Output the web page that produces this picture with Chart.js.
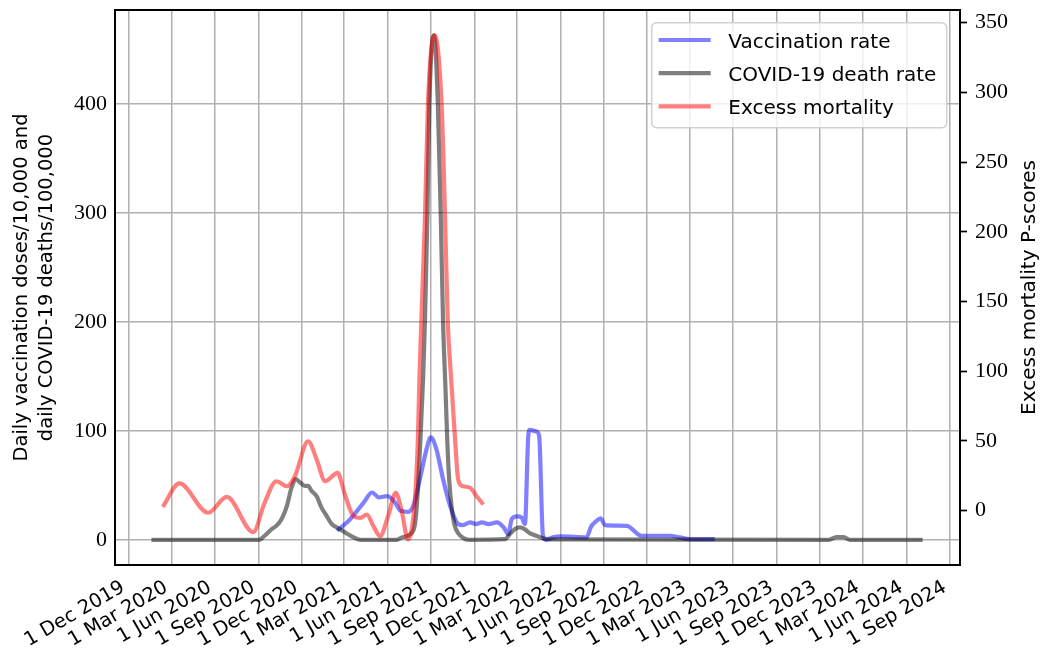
<!DOCTYPE html>
<html>
<head>
<meta charset="utf-8">
<script src="https://cdn.jsdelivr.net/npm/chart.js@4.4.1/dist/chart.umd.min.js"></script>
<style>
  html, body { margin: 0; padding: 0; background: #ffffff; }
  #wrap { width: 1045px; height: 649px; }
</style>
</head>
<body>
<div id="wrap"><canvas id="chart" width="1045" height="649"></canvas></div>
<script>
// Daily vaccination doses per 10,000 (left axis)
const vaccDates = [
  '2021-02-14','2021-03-14','2021-04-11','2021-04-29','2021-05-13','2021-05-31','2021-06-17','2021-06-28',
  '2021-07-14','2021-07-25','2021-08-08','2021-08-22','2021-08-31','2021-09-12','2021-09-26','2021-10-11',
  '2021-10-28','2021-11-07','2021-11-22','2021-12-06','2021-12-17','2021-12-31','2022-01-18','2022-02-01',
  '2022-02-11','2022-02-18','2022-03-01','2022-03-11','2022-03-18','2022-03-25','2022-03-28','2022-04-11',
  '2022-04-17','2022-04-25','2022-05-02','2022-05-16','2022-05-31','2022-07-26','2022-08-05','2022-08-16',
  '2022-08-25','2022-09-03','2022-10-19','2022-11-19','2023-01-18','2023-02-08','2023-03-01','2023-04-23'
];
const vaccRate = [
  8.3, 19, 34, 43.4, 39, 40, 34, 26.6,
  25.7, 31, 55.6, 83, 94, 83, 55.6, 31,
  14.4, 13.5, 16, 14.4, 16, 14.4, 16, 11.4,
  5.2, 19, 21.4, 20.5, 14.4, 95.3, 100.8, 99.4,
  95.3, 3.7, 0, 2.2, 3.1, 2.2, 12.3, 17.4,
  19.6, 13.5, 12.8, 3.7, 3.7, 2.2, 0.6, 0.6
];

// Daily COVID-19 deaths per 100,000 (left axis)
const deathDates = [
  '2020-01-19','2020-09-02','2020-09-14','2020-09-29','2020-10-09','2020-10-20','2020-10-31','2020-11-10',
  '2020-11-19','2020-11-28','2020-12-08','2020-12-15','2020-12-22','2021-01-02','2021-01-12','2021-01-23',
  '2021-02-03','2021-02-17','2021-03-03','2021-03-21','2021-04-04','2021-06-20','2021-06-30','2021-07-18',
  '2021-07-28','2021-08-02','2021-08-09','2021-08-15','2021-08-19','2021-08-24','2021-08-28','2021-09-07',
  '2021-09-15','2021-09-21','2021-09-26','2021-10-01','2021-10-05','2021-10-09','2021-10-14','2021-10-20',
  '2021-10-28','2021-11-08','2021-11-20','2022-02-04','2022-02-14','2022-02-25','2022-03-07','2022-03-17',
  '2022-03-28','2022-04-11','2022-04-25','2022-05-09','2023-12-20','2024-01-05','2024-01-20','2024-02-03',
  '2024-07-05'
];
const deathRate = [
  0, 0, 3.7, 9.8, 12.8, 19, 31, 48,
  55.6, 52.6, 49.5, 49.5, 45, 40, 29.7, 22,
  14.4, 10.5, 6.8, 2.2, 0, 0, 2, 5,
  12.8, 34, 90, 150, 205, 300, 400, 463.1,
  400, 300, 200, 140, 90, 55, 30, 14,
  6, 1.5, 0, 0.6, 5.2, 9.8, 11.4, 9.8,
  6.1, 3.7, 1.3, 0.3, 0, 2.5, 2.5, 0,
  0
];

// Excess mortality P-scores (right axis)
const excessDates = [
  '2020-02-12','2020-03-18','2020-05-18','2020-06-26','2020-08-21','2020-09-14','2020-10-09','2020-10-31',
  '2020-11-17','2020-12-15','2021-01-02','2021-01-20','2021-02-15','2021-03-03','2021-03-21','2021-04-04',
  '2021-04-18','2021-05-02','2021-05-16','2021-06-02','2021-06-18','2021-06-30','2021-07-14','2021-07-28',
  '2021-08-04','2021-08-07','2021-08-11','2021-08-19','2021-08-25','2021-09-08','2021-09-23','2021-09-30',
  '2021-10-06','2021-10-12','2021-10-21','2021-10-28','2021-11-07','2021-11-22','2021-12-06','2021-12-20'
];
const excessP = [
  2.6, 19.4, -1.6, 9.8, -15.5, 5.5, 21, 17.4,
  24.6, 49.7, 36.6, 21, 27, 11, -4, -5.3,
  -2.9, -11.3, -18.4, -4, 12.7, 0.7, -20.8, 5.5,
  53, 94, 135, 213, 291, 341, 291, 213,
  135, 100, 53, 22, 17.4, 16.3, 10.2, 4.3
];

// Axis ticks and limits
const xTickDates = [
  '2019-12-01','2020-03-01','2020-06-01','2020-09-01','2020-12-01','2021-03-01','2021-06-01',
  '2021-09-01','2021-12-01','2022-03-01','2022-06-01','2022-09-01','2022-12-01','2023-03-01',
  '2023-06-01','2023-09-01','2023-12-01','2024-03-01','2024-06-01','2024-09-01'
];
const xLimits = ['2019-11-03', '2024-09-22'];
const leftTicks = [0, 100, 200, 300, 400];
const leftLimits = [-23.15, 486.3];
const rightTicks = [0, 50, 100, 150, 200, 250, 300, 350];
const rightLimits = [-39.1, 359.1];
const monthNames = ['Jan','Feb','Mar','Apr','May','Jun','Jul','Aug','Sep','Oct','Nov','Dec'];

const toPoints = (dates, vals) => dates.map((d, i) => ({ x: Date.parse(d), y: vals[i] }));
const fmtDate = ms => {
  const d = new Date(ms);
  return d.getUTCDate() + ' ' + monthNames[d.getUTCMonth()] + ' ' + d.getUTCFullYear();
};

const SANS = "'DejaVu Sans', sans-serif";
const SERIF = "'Liberation Serif', 'DejaVu Serif', serif";

// Frame, in-axes legend and right-hand axis title
const decorations = {
  id: 'decorations',
  afterDraw(chart) {
    const { ctx, chartArea: a } = chart;
    ctx.save();

    // axes frame
    ctx.strokeStyle = '#000000';
    ctx.lineWidth = 2;
    ctx.strokeRect(a.left, a.top, a.right - a.left, a.bottom - a.top);

    // legend box
    const bw = 295, bh = 105, r = 5;
    const bx = a.right - 308.3, by = a.top + 12.7;
    ctx.beginPath();
    ctx.moveTo(bx + r, by);
    ctx.lineTo(bx + bw - r, by);
    ctx.arcTo(bx + bw, by, bx + bw, by + r, r);
    ctx.lineTo(bx + bw, by + bh - r);
    ctx.arcTo(bx + bw, by + bh, bx + bw - r, by + bh, r);
    ctx.lineTo(bx + r, by + bh);
    ctx.arcTo(bx, by + bh, bx, by + bh - r, r);
    ctx.lineTo(bx, by + r);
    ctx.arcTo(bx, by, bx + r, by, r);
    ctx.closePath();
    ctx.fillStyle = 'rgba(255,255,255,0.8)';
    ctx.fill();
    ctx.strokeStyle = 'rgba(204,204,204,0.9)';
    ctx.lineWidth = 1.5;
    ctx.stroke();

    ctx.font = '20px ' + SANS;
    ctx.textAlign = 'left';
    ctx.textBaseline = 'alphabetic';
    chart.data.datasets.forEach((ds, i) => {
      const ry = by + 17.3 + i * 33.2;
      ctx.beginPath();
      ctx.moveTo(bx + 7, ry);
      ctx.lineTo(bx + 59, ry);
      ctx.strokeStyle = ds.borderColor;
      ctx.lineWidth = 4.2;
      ctx.stroke();
      ctx.fillStyle = '#000000';
      ctx.fillText(ds.label, bx + 76.6, ry + 7.5);
    });

    // right axis title, reading upwards
    ctx.translate(1030, (a.top + a.bottom) / 2);
    ctx.rotate(-Math.PI / 2);
    ctx.textAlign = 'center';
    ctx.textBaseline = 'middle';
    ctx.fillStyle = '#000000';
    ctx.fillText('Excess mortality P-scores', 0, 0);
    ctx.restore();
  }
};

const lineStyle = color => ({
  borderColor: color,
  backgroundColor: color,
  borderWidth: 4.2,
  pointRadius: 0,
  fill: false,
  cubicInterpolationMode: 'monotone',
  borderJoinStyle: 'round'
});

new Chart(document.getElementById('chart'), {
  type: 'line',
  data: {
    datasets: [
      Object.assign({ label: 'Vaccination rate', data: toPoints(vaccDates, vaccRate), yAxisID: 'y', order: 3 },
        lineStyle('rgba(0,0,255,0.5)')),
      Object.assign({ label: 'COVID-19 death rate', data: toPoints(deathDates, deathRate), yAxisID: 'y', order: 2 },
        lineStyle('rgba(0,0,0,0.5)')),
      Object.assign({ label: 'Excess mortality', data: toPoints(excessDates, excessP), yAxisID: 'y2', order: 1 },
        lineStyle('rgba(255,0,0,0.5)'))
    ]
  },
  options: {
    responsive: false,
    animation: false,
    devicePixelRatio: 1,
    layout: { padding: { top: 10, left: 0, right: 0, bottom: 0 } },
    plugins: { legend: { display: false }, tooltip: { enabled: false } },
    scales: {
      x: {
        type: 'linear',
        min: Date.parse(xLimits[0]),
        max: Date.parse(xLimits[1]),
        afterBuildTicks: s => { s.ticks = xTickDates.map(d => ({ value: Date.parse(d) })); },
        afterFit: s => { s.height = 84; s.paddingLeft = 0; s.paddingRight = 0; },
        grid: { color: '#b0b0b0', lineWidth: 1.5, drawTicks: false },
        border: { display: false },
        ticks: {
          autoSkip: false,
          minRotation: 30,
          maxRotation: 30,
          padding: 11,
          labelOffset: -5,
          color: '#000000',
          font: { family: SANS, size: 19.5 },
          callback: v => fmtDate(v)
        }
      },
      y: {
        type: 'linear',
        position: 'left',
        min: leftLimits[0],
        max: leftLimits[1],
        afterBuildTicks: s => { s.ticks = leftTicks.map(v => ({ value: v })); },
        afterFit: s => { s.width = 115; s.paddingTop = 0; s.paddingBottom = 0; },
        grid: { color: '#b0b0b0', lineWidth: 1.5, drawTicks: false },
        border: { display: false },
        ticks: { padding: 8, color: '#000000', font: { family: SERIF, size: 22 } },
        title: {
          display: true,
          text: ['Daily vaccination doses/10,000 and', 'daily COVID-19 deaths/100,000'],
          color: '#000000',
          font: { family: SANS, size: 19.5, lineHeight: 1.28 },
          padding: { top: 9.5, bottom: 0 }
        }
      },
      y2: {
        type: 'linear',
        position: 'right',
        min: rightLimits[0],
        max: rightLimits[1],
        afterBuildTicks: s => { s.ticks = rightTicks.map(v => ({ value: v })); },
        afterFit: s => { s.width = 85; s.paddingTop = 0; s.paddingBottom = 0; },
        grid: { drawOnChartArea: false, drawTicks: true, tickLength: 7, tickColor: '#000000', tickWidth: 1.7 },
        border: { display: false },
        ticks: { padding: 8, color: '#000000', font: { family: SERIF, size: 22 } }
      }
    }
  },
  plugins: [decorations]
});
</script>
</body>
</html>
